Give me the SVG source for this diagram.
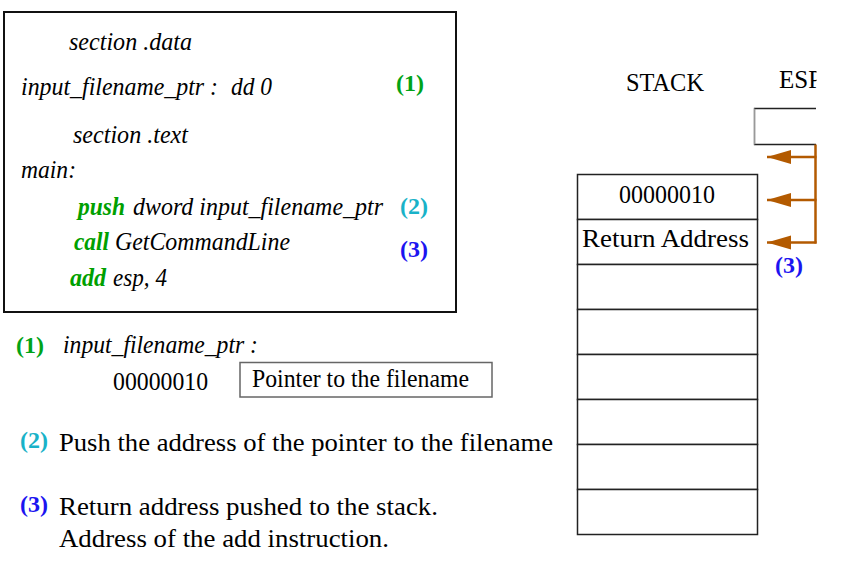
<svg xmlns="http://www.w3.org/2000/svg" width="864" height="588" viewBox="0 0 864 588">
<style>
  .it { font-family: "Liberation Serif", "Times New Roman", serif; font-style: italic; font-size: 25.5px; fill: #000; }
  .rm { font-family: "Liberation Serif", "Times New Roman", serif; font-size: 25px; fill: #000; }
  .kw { font-family: "Liberation Serif", "Times New Roman", serif; font-style: italic; font-weight: bold; font-size: 25.5px; fill: #00a000; }
  .num { font-family: "Liberation Serif", "Times New Roman", serif; font-weight: bold; font-size: 23px; }
  .g { fill: #00a317; }
  .c { fill: #19b2c8; }
  .b { fill: #1c14f0; }
  .frame { fill: none; stroke: #111; stroke-width: 2; }
  .cell { fill: #fff; stroke: #222; stroke-width: 1.5; }
  .arr { fill: none; stroke: #b35a00; stroke-width: 2.5; }
</style>
<defs>
  <marker id="ah" markerUnits="userSpaceOnUse" markerWidth="25" markerHeight="15" refX="24" refY="7" orient="auto">
    <path d="M0,0 L24,7 L0,14 z" fill="#b35a00"/>
  </marker>
  <clipPath id="espclip"><rect x="740" y="60" width="76.5" height="100"/></clipPath>
</defs>
<rect width="864" height="588" fill="#fff"/>

<g id="code-box">
  <rect class="frame" x="4" y="12" width="452" height="300"/>
  <text class="it" x="69" y="50" textLength="123" lengthAdjust="spacingAndGlyphs">section .data</text>
  <text class="it" y="95"><tspan x="21" textLength="197" lengthAdjust="spacingAndGlyphs">input_filename_ptr :</tspan><tspan x="231" textLength="41" lengthAdjust="spacingAndGlyphs">dd 0</tspan></text>
  <text class="num g" x="396" y="91" textLength="28" lengthAdjust="spacingAndGlyphs">(1)</text>
  <text class="it" x="73" y="143" textLength="115" lengthAdjust="spacingAndGlyphs">section .text</text>
  <text class="it" x="21" y="178" textLength="55" lengthAdjust="spacingAndGlyphs">main:</text>
  <text y="215"><tspan class="kw" x="78" textLength="47" lengthAdjust="spacingAndGlyphs">push</tspan><tspan class="it" x="133" textLength="250" lengthAdjust="spacingAndGlyphs">dword input_filename_ptr</tspan></text>
  <text class="num c" x="400" y="214" textLength="28" lengthAdjust="spacingAndGlyphs">(2)</text>
  <text y="250"><tspan class="kw" x="74" textLength="35" lengthAdjust="spacingAndGlyphs">call</tspan><tspan class="it" x="115" textLength="175" lengthAdjust="spacingAndGlyphs">GetCommandLine</tspan></text>
  <text class="num b" x="400" y="257" textLength="28" lengthAdjust="spacingAndGlyphs">(3)</text>
  <text y="286"><tspan class="kw" x="70" textLength="36" lengthAdjust="spacingAndGlyphs">add</tspan><tspan class="it" x="113" textLength="54" lengthAdjust="spacingAndGlyphs">esp, 4</tspan></text>
</g>

<g id="notes">
  <text class="num g" x="16" y="353" textLength="28" lengthAdjust="spacingAndGlyphs">(1)</text>
  <text class="it" x="63" y="353" textLength="195" lengthAdjust="spacingAndGlyphs">input_filename_ptr :</text>
  <text class="rm" x="113" y="390" textLength="95" lengthAdjust="spacingAndGlyphs">00000010</text>
  <g id="pointer-box">
    <rect x="240" y="362.5" width="252" height="34.5" fill="#fff" stroke="#666" stroke-width="1.5"/>
    <text class="rm" x="252" y="387" textLength="217" lengthAdjust="spacingAndGlyphs">Pointer to the filename</text>
  </g>
  <text class="num c" x="20" y="448" textLength="28" lengthAdjust="spacingAndGlyphs">(2)</text>
  <text class="rm" x="59" y="451" font-size="26" textLength="494" lengthAdjust="spacingAndGlyphs">Push the address of the pointer to the filename</text>
  <text class="num b" x="20" y="512" textLength="28" lengthAdjust="spacingAndGlyphs">(3)</text>
  <text class="rm" x="59" y="515" font-size="26" textLength="379" lengthAdjust="spacingAndGlyphs">Return address pushed to the stack.</text>
  <text class="rm" x="59" y="547" font-size="26" textLength="330" lengthAdjust="spacingAndGlyphs">Address of the add instruction.</text>
</g>

<g id="stack">
  <text class="rm" x="626" y="91" textLength="78" lengthAdjust="spacingAndGlyphs">STACK</text>
  <rect class="cell" x="577.5" y="174.5" width="180" height="45"/>
  <rect class="cell" x="577.5" y="219.5" width="180" height="45"/>
  <rect class="cell" x="577.5" y="264.5" width="180" height="45"/>
  <rect class="cell" x="577.5" y="309.5" width="180" height="45"/>
  <rect class="cell" x="577.5" y="354.5" width="180" height="45"/>
  <rect class="cell" x="577.5" y="399.5" width="180" height="45"/>
  <rect class="cell" x="577.5" y="444.5" width="180" height="45"/>
  <rect class="cell" x="577.5" y="489.5" width="180" height="45"/>
  <text class="rm" x="619" y="203" font-size="24" textLength="96" lengthAdjust="spacingAndGlyphs">00000010</text>
  <text class="rm" x="582" y="247" font-size="23" textLength="167" lengthAdjust="spacingAndGlyphs">Return Address</text>
</g>

<g id="esp" clip-path="url(#espclip)">
  <text class="rm" x="779" y="88">ESP</text>
  <path d="M816,108.5 H754.5 V144.5 H816" fill="none" stroke="#222" stroke-width="1.3"/>
  <line x1="754.5" y1="108.5" x2="754.5" y2="144.5" stroke="#999" stroke-width="1.3"/>
</g>

<g id="connectors">
  <path class="arr" d="M815.5,144.5 V243.5"/>
  <line class="arr" x1="816.5" y1="157" x2="767" y2="157" marker-end="url(#ah)"/>
  <line class="arr" x1="816.5" y1="200" x2="767" y2="200" marker-end="url(#ah)"/>
  <line class="arr" x1="816.5" y1="242.5" x2="767" y2="242.5" marker-end="url(#ah)"/>
  <text class="num b" x="775" y="273" textLength="28" lengthAdjust="spacingAndGlyphs">(3)</text>
</g>
</svg>
